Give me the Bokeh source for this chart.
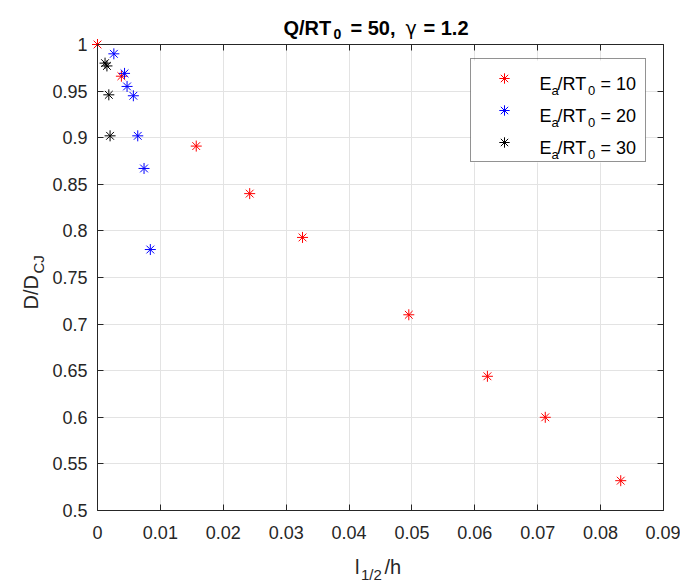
from bokeh.plotting import figure
from bokeh.models import (Range1d, FixedTicker, CustomJSTickFormatter, LinearAxis,
                          Label, Legend, LegendItem, BoxAnnotation)
from bokeh.embed import file_html
from bokeh.resources import INLINE

# ---- data ----
red_x = [0.0, 0.0038, 0.0157, 0.0242, 0.0326, 0.0495, 0.0620, 0.0712, 0.0832]
red_y = [1.0, 0.966, 0.891, 0.840, 0.793, 0.710, 0.644, 0.600, 0.532]
blue_x = [0.0026, 0.0043, 0.0047, 0.0057, 0.0064, 0.0074, 0.0084]
blue_y = [0.990, 0.969, 0.955, 0.945, 0.902, 0.867, 0.780]
black_x = [0.0012, 0.0015, 0.0018, 0.0020]
black_y = [0.980, 0.977, 0.946, 0.902]

x_ticks = [0, 0.01, 0.02, 0.03, 0.04, 0.05, 0.06, 0.07, 0.08, 0.09]
y_ticks = [0.5, 0.55, 0.6, 0.65, 0.7, 0.75, 0.8, 0.85, 0.9, 0.95, 1.0]
x_lim = (0.0, 0.09)
y_lim = (0.5, 1.0)
ea_vals = ["10", "20", "30"]

FONT = "Liberation Sans"
AX = "#262626"
GRID = "#e3e3e3"

# ---- layout (pixels) ----
W, H = 680, 583
BOX_L, BOX_R, BOX_T, BOX_B = 97, 663, 44, 510   # axes box inside the canvas
sx = (x_lim[1] - x_lim[0]) / (BOX_R - BOX_L)
sy = (y_lim[1] - y_lim[0]) / (BOX_B - BOX_T)
x_range = Range1d(x_lim[0] - BOX_L * sx, x_lim[1] + (W - BOX_R) * sx)
y_range = Range1d(y_lim[0] - (H - BOX_B) * sy, y_lim[1] + BOX_T * sy)

p = figure(width=W, height=H, output_backend="svg", toolbar_location=None,
           x_range=x_range, y_range=y_range,
           min_border=0, min_border_left=0, min_border_right=0,
           min_border_top=0, min_border_bottom=0,
           background_fill_color="white", border_fill_color="white")
p.outline_line_color = None

fmt = CustomJSTickFormatter(code="return String(parseFloat(tick.toFixed(2)));")
blank = "return '';"

def style_axis(ax, ticks, formatter, loc, bounds, size="18px", standoff=10):
    ax.ticker = FixedTicker(ticks=ticks)
    ax.formatter = formatter
    ax.fixed_location = loc
    ax.bounds = bounds
    ax.axis_line_color = AX
    ax.axis_line_width = 1
    ax.major_tick_line_color = AX
    ax.major_tick_in = 6
    ax.major_tick_out = 0
    ax.minor_tick_line_color = None
    ax.major_label_text_font = FONT
    ax.major_label_text_font_size = size
    ax.major_label_text_color = AX
    ax.major_label_standoff = standoff

style_axis(p.xaxis[0], x_ticks, fmt, y_lim[0], x_lim, standoff=15)
style_axis(p.yaxis[0], y_ticks, fmt, x_lim[0], y_lim, standoff=10)

top_ax = LinearAxis()
style_axis(top_ax, x_ticks, CustomJSTickFormatter(code=blank), y_lim[1], x_lim, size="1px", standoff=0)
p.add_layout(top_ax, "above")
right_ax = LinearAxis()
style_axis(right_ax, y_ticks, CustomJSTickFormatter(code=blank), x_lim[1], y_lim, size="1px", standoff=0)
p.add_layout(right_ax, "right")

p.xgrid.ticker = FixedTicker(ticks=x_ticks)
p.ygrid.ticker = FixedTicker(ticks=y_ticks)
p.xgrid.grid_line_color = GRID
p.ygrid.grid_line_color = GRID
p.xgrid.bounds = x_lim
p.ygrid.bounds = y_lim
p.xgrid.cross_bounds = y_lim
p.ygrid.cross_bounds = x_lim

# legend area background (hides grid lines under the legend)
LG_L, LG_R, LG_T, LG_B = 470, 645, 60, 162
p.add_layout(BoxAnnotation(left=LG_L, right=LG_R, top=H - LG_T, bottom=H - LG_B,
                           left_units="screen", right_units="screen",
                           top_units="screen", bottom_units="screen",
                           fill_color="white", fill_alpha=1.0, line_color=None,
                           level="underlay"))

r_red = p.scatter(red_x, red_y, marker="asterisk", size=11, line_color="#ff0000", line_width=1)
r_blue = p.scatter(blue_x, blue_y, marker="asterisk", size=11, line_color="#0000ff", line_width=1)
r_black = p.scatter(black_x, black_y, marker="asterisk", size=11, line_color="#000000", line_width=1)

legend = Legend(items=[LegendItem(label=" ", renderers=[r_red]),
                       LegendItem(label=" ", renderers=[r_blue]),
                       LegendItem(label=" ", renderers=[r_black])],
                location=(LG_L, H - LG_B), padding=6, spacing=6, margin=0,
                glyph_width=54, glyph_height=26, label_width=108, label_height=26,
                label_standoff=0, label_text_font_size="2px",
                border_line_color=AX, border_line_width=1,
                background_fill_color="white", background_fill_alpha=0.0)
p.add_layout(legend)

# ---- texts with subscripts (X, Y = canvas pixels from top-left; baseline) ----
def txt(X, Y, s, size, bold=False, angle=0, color=AX, font=FONT):
    p.add_layout(Label(x=X, y=H - Y, x_units="screen", y_units="screen", text=s,
                       text_font=font, text_font_size=f"{size}px",
                       text_font_style="bold" if bold else "normal", text_color=color,
                       text_align="left", text_baseline="alphabetic",
                       angle=angle, angle_units="deg", level="overlay"))

# title
txt(283, 27, "Q/RT", 20, bold=True, color="#000000")
txt(333, 33, "0", 14, bold=True, color="#000000")
txt(350, 27, "= 50,", 20, bold=True, color="#000000")
txt(405, 27, "\u03b3", 19, color="#000000", font="DejaVu Sans")
txt(423, 27, "= 1.2", 20, bold=True, color="#000000")

# x label
txt(354.5, 566, "l", 20)
txt(360.5, 574, "1/2", 15)
txt(384, 566, "/h", 20)

# y label (rotated)
txt(30, 309, "D/D", 20, angle=90)
txt(38, 273, "CJ", 15, angle=90)

# legend texts
for i, v in enumerate(ea_vals):
    b = 83.3 + 32 * i
    txt(539, b, "E", 18, color="#000000")
    txt(551, b + 6.7, "a", 13, color="#000000")
    txt(557, b, "/RT", 18, color="#000000")
    txt(587.5, b + 6.7, "0", 13, color="#000000")
    txt(600, b, "= " + v, 18, color="#000000")

open("out.html", "w").write(file_html(p, INLINE))
